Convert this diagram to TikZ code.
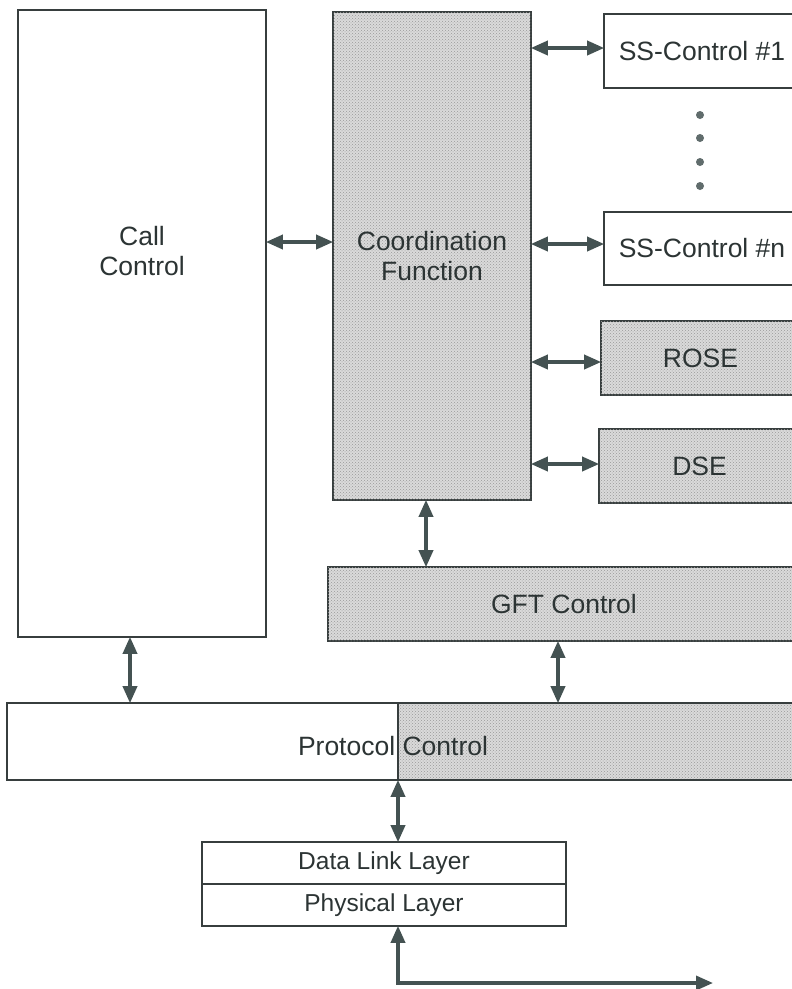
\documentclass[tikz,border=0pt]{standalone}
\usepackage{fontspec}
\setmainfont{Liberation Sans}
\usetikzlibrary{arrows.meta,patterns}
\definecolor{lc}{RGB}{68,82,82}
\definecolor{tc}{RGB}{44,52,52}
\definecolor{bc}{RGB}{55,62,62}
\definecolor{shade}{RGB}{218,218,218}
\begin{document}
\begin{tikzpicture}[x=1pt,y=-1pt,
  box/.style={draw=bc,line width=1.6pt,inner sep=0pt,anchor=center,text=tc,
    font=\fontsize{26.5}{30}\selectfont,align=center},
  shaded/.style={box,fill=shade,postaction={pattern=crosshatch dots,pattern color=black!40}},
  lab/.style={text=tc,font=\fontsize{26.5}{30}\selectfont,align=center,inner sep=0pt},
  small/.style={font=\fontsize{24.5}{28}\selectfont},
  biarrow/.style={draw=lc,line width=3.5pt,{Triangle[length=17pt,width=14pt]}-{Triangle[length=17pt,width=14pt]},shorten <=-1pt,shorten >=-1pt},
  dotmark/.style={fill=lc!85,draw=none}
]
\useasboundingbox (0,0) rectangle (792,989);
\clip (0,0) rectangle (792,989);
\fill[white] (0,0) rectangle (792,989);

% boxes
\node[box,minimum width=248pt,minimum height=627pt] (cc) at (142,323.5) {};
\node[lab] (cctext) at (142,251) {Call\\Control};
\node[shaded,minimum width=198pt,minimum height=488pt] (cf) at (432,256) {Coordination\\Function};
\node[box,minimum width=196pt,minimum height=74pt] (ss1) at (702,51) {SS-Control \#1};
\node[box,minimum width=196pt,minimum height=73pt] (ssn) at (702,248.5) {SS-Control \#n};
\node[shaded,minimum width=199pt,minimum height=74pt] (rose) at (700.5,358) {ROSE};
\node[shaded,minimum width=201pt,minimum height=74pt] (dse) at (699.5,466) {DSE};
\node[shaded,minimum width=472pt,minimum height=74pt] (gft) at (564,604) {GFT Control};

% protocol control
\node[shaded,draw=none,minimum width=401pt,minimum height=77pt] (pcshade) at (599.5,741.5) {};
\node[box,fill=none,minimum width=793pt,minimum height=77pt] (pc) at (403.5,741.5) {};
\draw[bc,line width=1.6pt] (pcshade.north west) -- (pcshade.south west);
\node[lab] (pctext) at (393,746) {Protocol Control};

% layers
\node[box,small,minimum width=364pt,minimum height=42pt] (dl) at (384,863) {Data Link Layer};
\node[box,small,minimum width=364pt,minimum height=42pt] (ph) at (384,905) {Physical Layer};

% dots
\foreach \yy in {115,138,162,186} \fill[dotmark] (700,\yy) circle (4pt);

% connectors
\draw[biarrow] (cc.east |- 0,242) -- (cf.west |- 0,242);
\draw[biarrow] (cf.east |- 0,48) -- (ss1.west |- 0,48);
\draw[biarrow] (cf.east |- 0,244) -- (ssn.west |- 0,244);
\draw[biarrow] (cf.east |- 0,362) -- (rose.west |- 0,362);
\draw[biarrow] (cf.east |- 0,464) -- (dse.west |- 0,464);
\draw[biarrow] (cf.south -| 426,0) -- (gft.north -| 426,0);
\draw[biarrow] (cc.south -| 130,0) -- (pc.north -| 130,0);
\draw[biarrow] (gft.south -| 558,0) -- (pc.north -| 558,0);
\draw[biarrow] (pc.south -| 398,0) -- (dl.north -| 398,0);
\coordinate (netend) at (712,983);
\draw[biarrow] (ph.south -| 398,0) |- (netend);
\end{tikzpicture}
\end{document}
